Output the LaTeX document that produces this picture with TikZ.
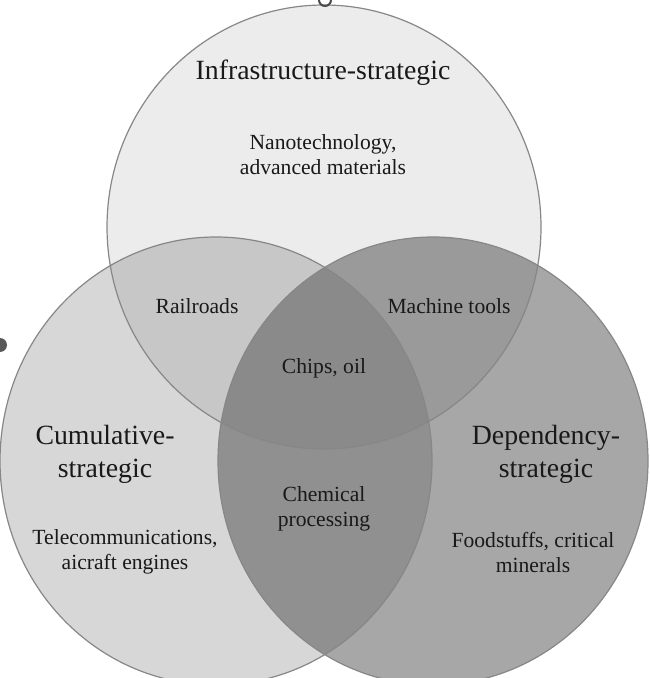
\documentclass[tikz,border=0pt]{standalone}
\usepackage{fontspec}
\setmainfont{Liberation Serif}
\usetikzlibrary{positioning}
\definecolor{rimGray}{gray}{0.53}
\definecolor{inkGray}{gray}{0.1}
\definecolor{infraGray}{gray}{0.925}
\definecolor{cumulGray}{gray}{0.845}
\definecolor{dependGray}{gray}{0.655}
\definecolor{infraCumulGray}{gray}{0.78}
\definecolor{infraDependGray}{gray}{0.605}
\definecolor{cumulDependGray}{gray}{0.565}
\definecolor{coreGray}{gray}{0.54}
\tikzset{
	setRim/.style={draw=rimGray, line width=.6pt},
	bigLabel/.style={font=\fontsize{13.9}{16.5}\selectfont, align=center, text=inkGray, inner sep=0pt},
	smallLabel/.style={font=\fontsize{10.8}{12.5}\selectfont, align=center, text=inkGray, inner sep=0pt},
	speck/.style={fill=gray!70!black}
}

\begin{document}
\begin{tikzpicture}[x=.5pt, y=-.5pt]
\useasboundingbox (0,0) rectangle (649,678);
\coordinate (infra) at (324,227);
\coordinate (cumul) at (216,461);
\coordinate (depend) at (433,461);
\def\infraDisc{(infra) ellipse [x radius=217, y radius=222]}
\def\cumulDisc{(cumul) ellipse [x radius=216, y radius=224]}
\def\dependDisc{(depend) ellipse [x radius=215, y radius=224]}
% plain discs
\fill[infraGray] \infraDisc;
\fill[cumulGray] \cumulDisc;
\fill[dependGray] \dependDisc;
% overlaps
\begin{scope}
	\clip \cumulDisc;
	\fill[cumulDependGray] \dependDisc;
\end{scope}
\begin{scope}
	\clip \infraDisc;
	\fill[infraCumulGray] \cumulDisc;
	\fill[infraDependGray] \dependDisc;
	\clip \cumulDisc;
	\fill[coreGray] \dependDisc;
\end{scope}
\draw[setRim] \infraDisc;
\draw[setRim] \cumulDisc;
\draw[setRim] \dependDisc;
% specks at the edges
\draw[gray!60!black, line width=1pt] (325,0) circle [radius=6];
\fill[speck] (0,345) circle [radius=7];

\node[bigLabel] (infraTitle) at (323,73) {Infrastructure-strategic};
\node[smallLabel] (infraItems) at (323,155) {Nanotechnology,\\advanced materials};
\node[smallLabel] (railroads) at (197,306) {Railroads};
\node[smallLabel] (machineTools) at (449,306) {Machine tools};
\node[smallLabel] (chipsOil) at (324,368) {Chips, oil};
\node[bigLabel] (cumulTitle) at (105,454) {Cumulative-\\strategic};
\node[bigLabel] (dependTitle) at (546,454) {Dependency-\\strategic};
\node[smallLabel] (chemical) at (324,509) {Chemical\\processing};
\node[smallLabel] (cumulItems) at (125,552) {Telecommunications,\\aicraft engines};
\node[smallLabel] (dependItems) at (533,552) {Foodstuffs, critical\\minerals};
\end{tikzpicture}
\end{document}
